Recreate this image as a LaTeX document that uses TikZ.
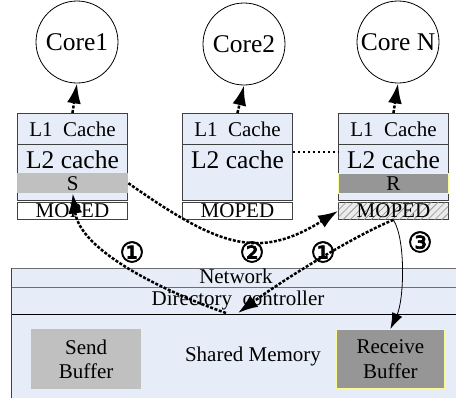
\documentclass[tikz,border=0pt]{standalone}
\usepackage{fontspec}
\setmainfont{Liberation Serif}
\newfontfamily\circfont{DejaVu Sans}[FakeBold=2.5]
\usetikzlibrary{arrows.meta,patterns.meta}

\definecolor{cachebg}{RGB}{231,237,248}
\definecolor{boxline}{RGB}{64,64,64}
\definecolor{graylight}{RGB}{192,192,192}
\definecolor{graydark}{RGB}{150,150,150}
\definecolor{paleyellow}{RGB}{250,250,150}
\definecolor{rulegray}{RGB}{110,110,110}

\newcommand\bigtxt{\fontsize{25.5}{28}\selectfont}
\newcommand\midtxt{\fontsize{21}{24.5}\selectfont}

\tikzset{
  core/.style={circle, draw=black, line width=0.8pt, minimum size=82pt,
    inner sep=0pt, font=\bigtxt},
  cacherow/.style={rectangle, draw=boxline, line width=0.9pt, fill=cachebg,
    minimum width=110pt, inner sep=0pt, anchor=north west, font=\midtxt},
  mopedrow/.style={cacherow, fill=white, minimum height=17pt},
  sbarbox/.style={rectangle, fill=graylight, minimum width=111pt,
    minimum height=20pt, inner sep=0pt, anchor=north west, font=\midtxt},
  rbarbox/.style={sbarbox, fill=graydark, draw=paleyellow, line width=0.8pt,
    minimum width=110pt},
  bufferbox/.style={rectangle, minimum width=110pt, minimum height=60pt,
    align=center, font=\midtxt, inner sep=0pt, anchor=north west},
  textlabel/.style={anchor=base, font=\midtxt, inner sep=0pt},
  dasharrow/.style={line width=2.5pt, dash pattern=on 3pt off 1.6pt,
    -{Latex[length=20pt,width=14pt]}},
  thinarrow/.style={line width=0.8pt, -{Latex[length=16pt,width=11pt]}},
  numlabel/.style={font=\circfont\fontsize{28}{28}\selectfont,
    inner sep=0pt},
}

\begin{document}
\begin{tikzpicture}[x=1pt,y=-1pt]
\useasboundingbox (0,0) rectangle (456,400);

% shared memory block with network and directory rows
\fill[cachebg] (11,268) rectangle (456,398);
\draw[rulegray, line width=0.8pt] (11,268) -- (456,268);
\draw[rulegray, line width=0.8pt] (11,287) -- (456,287);
\draw[black, line width=0.9pt] (11,314) -- (456,314);
\draw[boxline, line width=0.9pt] (11,268) -- (11,398);
\node[textlabel] (net) at (236,283) {Network};
\node[textlabel] (dirctl) at (238,305) {Directory\ \ controller};
\node[textlabel] (shm) at (253,361) {Shared Memory};
\node[bufferbox, fill=graylight] (send) at (31,329) {Send\\Buffer};
\node[bufferbox, fill=graydark, draw=paleyellow, line width=0.8pt,
  minimum width=108pt, minimum height=59pt] (recv) at (336,329) {Receive\\Buffer};

% cores
\node[core] (c1) at (77,42) {Core1};
\node[core] (c2) at (244,44) {Core2};
\node[core] (c3) at (398,42) {Core N};

% cache stacks
\foreach \i/\x in {1/17, 2/182, 3/338} {
  \node[cacherow, minimum height=31pt] (l1\i) at (\x,113) {L1\ \ Cache};
  \node[cacherow, minimum height=56pt] (l2\i) at (\x,144) {};
  \node[anchor=base, font=\bigtxt, inner sep=0pt] (l2t\i)
    at ([yshift=-24pt]l2\i.north) {L2 cache};
}
\node[sbarbox] (sbar) at (17,173) {S};
\node[rbarbox] (rbar) at (338,173) {R};
\node[mopedrow] (m1) at (17,202) {MOPED};
\node[mopedrow] (m2) at (182,202) {MOPED};
\node[mopedrow, fill=black!8,
  postaction={pattern={Lines[angle=45,distance=5pt,line width=0.6pt]},
  pattern color=black!45}] (m3) at (338,202) {};
\node[font=\midtxt, inner sep=0pt] (m3t) at (m3.center) {MOPED};

% caches to cores
\draw[dasharrow] (l11.north) -- (c1.south);
\draw[dasharrow] (l12.north) -- (c2.south);
\draw[dasharrow] (l13.north) -- (c3.south);

% link between L2 caches
\draw[line width=2pt, dash pattern=on 2pt off 3pt]
  ([yshift=-8pt]l22.north east) -- ([yshift=-8pt]l23.north west);

% message flow
\coordinate (dirL) at (226,313);
\coordinate (dirR) at (238,313);
\draw[dasharrow] (sbar.east) .. controls (218,246) and (258,261) .. (m3.west);
\draw[dasharrow] (dirL) .. controls (160,290) and (80,250) .. (sbar.south);
\draw[dasharrow] (m3.south) .. controls (360,233) and (290,275) .. (dirR);
\draw[thinarrow] (m3.south) .. controls (406,240) and (404,300) .. (recv.north);

% step numbers
\node[numlabel] (n1a) at (132,252) {①};
\node[numlabel] (n2) at (252,252) {②};
\node[numlabel] (n1b) at (323,252) {①};
\node[numlabel] (n3) at (420,242) {③};
\end{tikzpicture}
\end{document}
